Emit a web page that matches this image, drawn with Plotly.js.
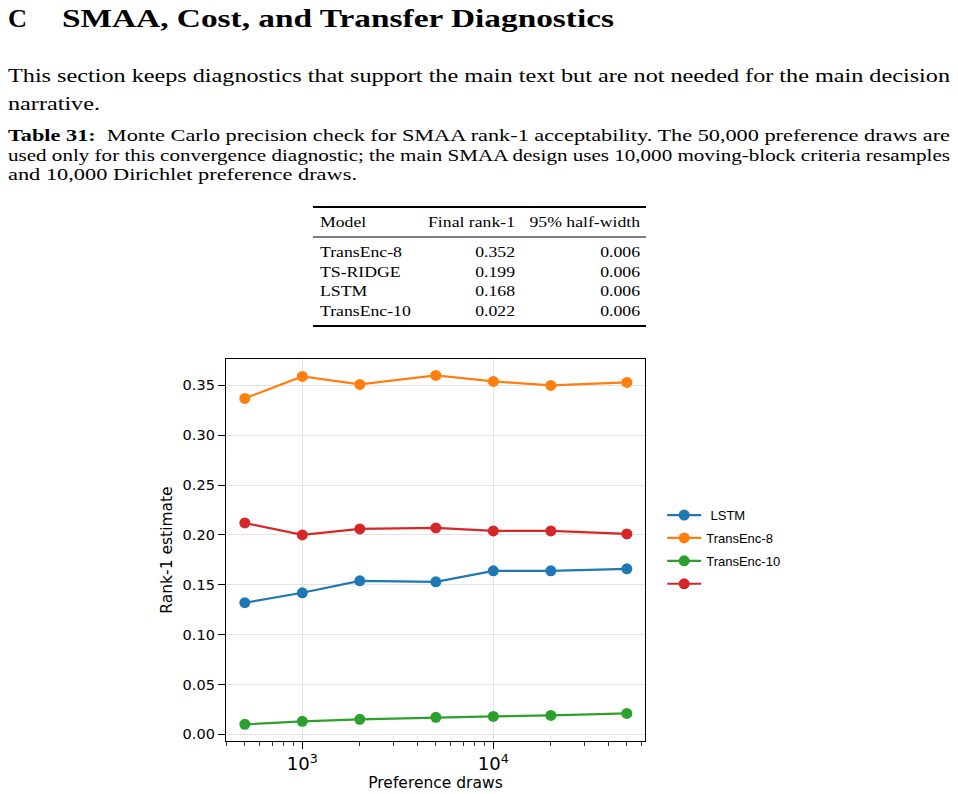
<!DOCTYPE html>
<html><head><meta charset="utf-8">
<script src="https://cdn.plot.ly/plotly-3.0.1.min.js"></script>
<style>
html,body{margin:0;padding:0;background:#fff;width:958px;height:794px;overflow:hidden;}
#chart{position:absolute;left:0;top:0;width:958px;height:794px;}
#doc{position:absolute;left:0;top:0;width:958px;height:794px;pointer-events:none;}
#doc text{font-family:"Liberation Serif","Times New Roman",serif;fill:#000;}
</style></head><body>
<div id="chart"></div>
<svg id="doc" xmlns="http://www.w3.org/2000/svg" width="958" height="794"></svg>
<script>
// ---- data ----
const drawCounts = [500, 1000, 2000, 5000, 10000, 20000, 50000];
const lstm       = [0.132, 0.142, 0.154, 0.153, 0.164, 0.164, 0.166];
const transEnc8  = [0.337, 0.359, 0.351, 0.360, 0.354, 0.350, 0.353];
const transEnc10 = [0.010, 0.013, 0.015, 0.017, 0.018, 0.019, 0.021];
const tsRidge    = [0.212, 0.200, 0.206, 0.207, 0.204, 0.204, 0.201];
const seriesNames  = ['\u2004LSTM', 'TransEnc-8', 'TransEnc-10', ''];
const seriesColors = ['#1f77b4', '#ff7f0e', '#2ca02c', '#d62728'];

const tableHeaders     = ['Model', 'Final rank-1', '95% half-width'];
const tableModels      = ['TransEnc-8', 'TS-RIDGE', 'LSTM', 'TransEnc-10'];
const tableFinalRank1  = ['0.352', '0.199', '0.168', '0.022'];
const tableHalfWidth   = ['0.006', '0.006', '0.006', '0.006'];

const headingLetter = 'C';
const headingText = 'SMAA, Cost, and Transfer Diagnostics';
const bodyLines = ['This section keeps diagnostics that support the main text but are not needed for the main decision',
                   'narrative.'];
const captionLabel = 'Table 31:';
const captionLines = ['Monte Carlo precision check for SMAA rank-1 acceptability.  The 50,000 preference draws are',
  'used only for this convergence diagnostic; the main SMAA design uses 10,000 moving-block criteria resamples',
  'and 10,000 Dirichlet preference draws.'];
const xTitle = 'Preference draws';
const yTitle = 'Rank-1 estimate';

// ---- document text (SVG) ----
const NS = 'http://www.w3.org/2000/svg';
const doc = document.getElementById('doc');
function addText(str, x, y, size, opts) {
  opts = opts || {};
  const t = document.createElementNS(NS, 'text');
  t.setAttribute('x', x); t.setAttribute('y', y);
  t.setAttribute('font-size', size);
  if (opts.bold) t.setAttribute('font-weight', 'bold');
  if (opts.label) {
    const b = document.createElementNS(NS, 'tspan');
    b.setAttribute('font-weight', 'bold'); b.textContent = opts.label + '\u00a0\u00a0';
    t.appendChild(b);
    const r = document.createElementNS(NS, 'tspan'); r.textContent = str; t.appendChild(r);
  } else t.textContent = str;
  t.setAttribute('xml:space', 'preserve');
  doc.appendChild(t);
  const nat = t.getComputedTextLength();
  let w = opts.width || nat * (opts.stretch || 1);
  t.setAttribute('textLength', w);
  t.setAttribute('lengthAdjust', 'spacingAndGlyphs');
  if (opts.end) t.setAttribute('x', x - w);
  return t;
}
function addRule(x1, x2, y, w) {
  const r = document.createElementNS(NS, 'rect');
  r.setAttribute('x', x1); r.setAttribute('y', y - w / 2);
  r.setAttribute('width', x2 - x1); r.setAttribute('height', w);
  r.setAttribute('fill', '#000'); doc.appendChild(r);
}
addText(headingLetter, 8, 27, 26, {bold: true, width: 19});
addText(headingText, 62, 27, 26, {bold: true, width: 552});
addText(bodyLines[0], 8, 82, 19, {width: 942});
addText(bodyLines[1], 8, 110, 19, {width: 92});
addText(captionLines[0], 8, 141, 17, {width: 942, label: captionLabel});
addText(captionLines[1], 8, 161, 17, {width: 942});
addText(captionLines[2], 8, 180, 17, {width: 349});

// table
const TS = 1.22, TF = 14.5;
addRule(313, 646, 207, 2);
addText(tableHeaders[0], 320, 227, TF, {stretch: TS});
addText(tableHeaders[1], 515, 227, TF, {stretch: TS, end: true});
addText(tableHeaders[2], 640, 227, TF, {stretch: TS, end: true});
addRule(313, 646, 237, 1);
const rowY = [257, 276.5, 296, 315.5];
tableModels.forEach((m, i) => {
  addText(m, 320, rowY[i], TF, {stretch: TS});
  addText(tableFinalRank1[i], 515, rowY[i], TF, {stretch: TS, end: true});
  addText(tableHalfWidth[i], 640, rowY[i], TF, {stretch: TS, end: true});
});
addRule(313, 646, 326, 2);

// ---- chart ----
const seriesData = [lstm, transEnc8, transEnc10, tsRidge];
const traces = seriesData.map((ys, i) => ({
  x: drawCounts, y: ys, type: 'scatter', mode: 'lines+markers',
  name: seriesNames[i], legendgroup: 'g' + i,
  line: {color: seriesColors[i], width: 2.2},
  marker: {color: seriesColors[i], size: 11}
}));
const DV = '"DejaVu Sans", Verdana, sans-serif';
const tickFont = {family: DV, size: 14.5, color: '#000'};
const titleFont = {family: DV, size: 15.5, color: '#000'};
const layout = {
  width: 958, height: 794,
  margin: {l: 226, r: 313, t: 359, b: 53},
  paper_bgcolor: 'rgba(0,0,0,0)', plot_bgcolor: '#fff',
  showlegend: true,
  legend: {x: 1.041, xanchor: 'left', y: 0.501, yanchor: 'middle', itemwidth: 34,
           font: {family: '"Liberation Sans", Arial, sans-serif', size: 13, color: '#000'},
           tracegroupgap: 3, traceorder: 'grouped', bgcolor: 'rgba(0,0,0,0)', borderwidth: 0},
  xaxis: {type: 'log', range: [2.6005, 4.794], dtick: 1, exponentformat: 'power',
          showline: true, linecolor: '#000', linewidth: 1.2, mirror: true,
          ticks: 'outside', ticklen: 7, tickwidth: 1, tickcolor: '#000',
          showgrid: true, gridcolor: '#e3e3e3', gridwidth: 1, zeroline: false,
          minor: {ticks: 'outside', ticklen: 3.5, tickwidth: 0.8, tickcolor: '#000', dtick: 'D1', showgrid: false},
          tickfont: tickFont,
          title: {text: xTitle, font: titleFont, standoff: 4}},
  yaxis: {range: [-0.0067, 0.3765], dtick: 0.05, tick0: 0, tickformat: '.2f',
          showline: true, linecolor: '#000', linewidth: 1.2, mirror: true,
          ticks: 'outside', ticklen: 7, tickwidth: 1, tickcolor: '#000',
          showgrid: true, gridcolor: '#e3e3e3', gridwidth: 1, zeroline: false,
          tickfont: tickFont,
          title: {text: yTitle, font: titleFont, standoff: 6}}
};
Plotly.newPlot('chart', traces, layout, {displayModeBar: false, staticPlot: true});
</script>
</body></html>
